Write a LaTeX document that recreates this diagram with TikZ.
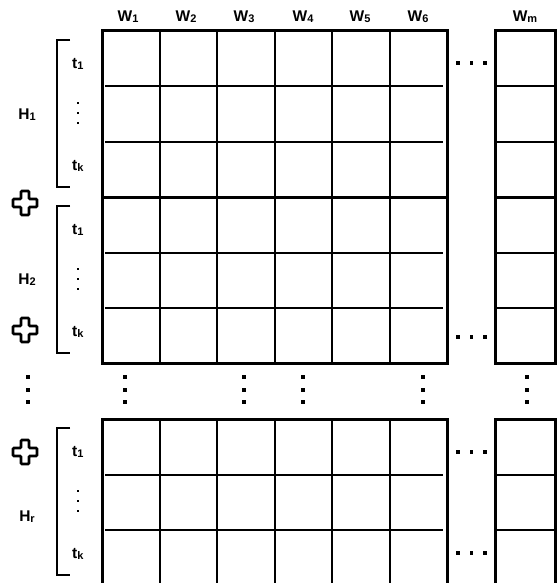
\documentclass[tikz,border=0pt]{standalone}
\usepackage{fontspec}
\setmainfont{Liberation Sans}
\usetikzlibrary{positioning,calc}

\newcommand{\sub}[1]{{\fontsize{11}{11}\selectfont\raisebox{-0.8pt}{#1}}}

\begin{document}
\begin{tikzpicture}[
    x=1pt, y=-1pt,
    outer/.style={line width=3pt, line cap=rect},
    inner/.style={line width=2pt},
    brace/.style={line width=2.6pt},
    lbl/.style={font=\fontsize{15.5}{15.5}\selectfont\bfseries, inner sep=0pt},
    dot/.style={fill=black, minimum size=3.2pt, inner sep=0pt, rectangle},
    sdot/.style={fill=black, minimum size=2.4pt, inner sep=0pt, rectangle},
    plus/.style={line width=2.6pt, rounded corners=1pt}
]
    \useasboundingbox (0,0) rectangle (558,583);
    \clip (0,0) rectangle (558,583);

    % column headers
    \foreach \i/\x in {1/128, 2/186, 3/244, 4/303, 5/360, 6/418}
        \node [lbl] (w\i) at (\x,17) {W\sub{\i}};
    \node [lbl] (wm) at (525,17) {W\sub{m}};

    % blocks of rows
    \foreach \b/\top in {1/31, 2/197, 3/419} {
        \foreach \r in {1,2}
            \draw [inner] (105,\top+\r*55.5) -- (443,\top+\r*55.5)
                          (495,\top+\r*55.5) -- (555,\top+\r*55.5);
        \foreach \x in {159.5, 217, 274.5, 332, 389.5}
            \draw [inner] (\x,\top) -- (\x,\top+166.5);
        \draw [outer] (102,\top) rectangle (447,\top+166.5);
        \draw [outer] (495,\top) rectangle (555,\top+166.5);
        % bracket
        \draw [brace] (70,\top+9) -- (57,\top+9) -- (57,\top+156) -- (70,\top+156);
        \node [lbl, anchor=west] (t1\b) at (72,\top+33) {t\sub{1}};
        \node [lbl, anchor=west] (tk\b) at (72,\top+135) {t\sub{k}};
        \foreach \d in {-10,0,10}
            \node [sdot] at (78,\top+82+\d) {};
    }

    % group labels
    \node [lbl] (h1) at (27,115) {H\sub{1}};
    \node [lbl] (h2) at (27,280) {H\sub{2}};
    \node [lbl] (hr) at (27,517) {H\sub{r}};

    % horizontal ellipses
    \foreach \y in {63, 337, 452, 553}
        \foreach \x in {458, 471.5, 485}
            \node [dot] at (\x,\y) {};

    % vertical ellipses between blocks
    \foreach \x in {28, 125, 244, 303, 423, 527}
        \foreach \y in {377, 390, 402}
            \node [dot] at (\x,\y) {};

    % plus signs
    \foreach \p/\y in {a/203, b/330, c/452}
        \draw [plus] (21,\y-12) -- (29,\y-12) -- (29,\y-4) -- (37,\y-4)
            -- (37,\y+4) -- (29,\y+4) -- (29,\y+12) -- (21,\y+12)
            -- (21,\y+4) -- (13,\y+4) -- (13,\y-4) -- (21,\y-4) -- cycle;
\end{tikzpicture}
\end{document}
